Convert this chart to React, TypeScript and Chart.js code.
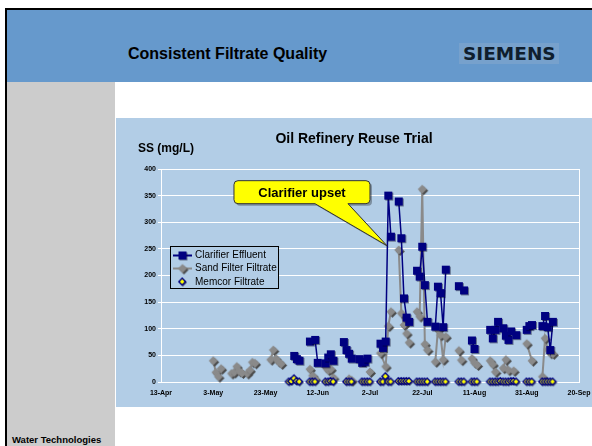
import React, { useEffect, useRef } from "react";
import { Chart, registerables } from "chart.js";

Chart.register(...registerables);

const FONT = "'Liberation Sans', Arial, Helvetica, sans-serif";

// ---- data ----
const xTickLabels = ["13-Apr", "3-May", "23-May", "12-Jun", "2-Jul", "22-Jul", "11-Aug", "31-Aug", "20-Sep"];
const xStepDays = 20;
const yMax = 400;
const yStep = 50;

const chartTitle = "Oil Refinery Reuse Trial";
const yAxisTitle = "SS (mg/L)";
const seriesNames = ["Clarifier Effluent", "Sand Filter Filtrate", "Memcor Filtrate"];

// [days after 13-Apr, SS mg/L]; each inner list is a run of connected samples
const clarifierSegments: number[][][] = [
  [[51, 49], [52, 43], [53, 40]],
  [[57, 76], [59, 79], [60, 36]],
  [[63, 35], [64, 46], [65, 52], [66, 40]],
  [[70, 75], [71, 60], [72, 53], [73, 44]],
  [[76, 43], [77, 36], [78, 38], [79, 44]],
  [[84, 72], [85, 64], [86, 76], [87, 350], [88, 273]],
  [[91, 339], [92, 270], [93, 157], [94, 121], [95, 113]],
  [[98, 209], [99, 198], [100, 254], [101, 182], [102, 113]],
  [[105, 104], [106, 179], [107, 167], [108, 103], [109, 211]],
  [[114, 180], [116, 172]],
  [[119, 78], [120, 62]],
  [[126, 98], [127, 82], [128, 98], [129, 113]],
  [[131, 101], [132, 87], [133, 79], [134, 95], [136, 88]],
  [[140, 98], [141, 105], [142, 107]],
  [[146, 105], [147, 124], [148, 103], [149, 60], [150, 113]],
];

const sandSegments: number[][][] = [
  [[20, 40], [21, 18], [22, 10], [23, 25]],
  [[27, 16], [28, 18], [29, 29], [30, 20], [31, 17]],
  [[33, 16], [34, 22], [35, 37], [36, 35]],
  [[42, 42], [43, 60], [44, 44], [45, 38], [46, 34]],
  [[57, 24], [58, 12], [59, 6]],
  [[63, 28], [64, 22], [65, 24], [66, 8]],
  [[72, 6], [73, 3]],
  [[80, 19]],
  [[84, 54], [86, 29], [87, 105], [88, 132]],
  [[91, 248], [92, 129], [93, 107], [94, 91], [95, 74]],
  [[98, 132], [99, 123], [100, 362], [101, 71], [102, 60]],
  [[105, 38], [106, 98], [107, 88], [108, 42], [109, 85]],
  [[114, 59], [115, 41]],
  [[119, 44], [120, 36], [121, 32]],
  [[126, 40], [127, 33], [128, 19]],
  [[131, 26], [132, 42], [133, 22], [135, 21]],
  [[140, 72], [142, 40]],
  [[146, 10], [147, 82], [148, 61], [149, 54], [150, 53]],
];

const memcorDays = [
  49, 50, 51, 52, 53, 57, 58, 59, 63, 64, 65, 66, 71, 72, 73, 77, 78, 79, 80,
  84, 85, 86, 87, 88, 91, 92, 93, 94, 95, 98, 99, 100, 101, 102, 105, 106, 107, 108, 109,
  114, 115, 116, 119, 120, 121, 126, 127, 128, 129, 130, 131, 132, 133, 134, 135, 136,
  140, 141, 142, 146, 147, 148, 149, 150,
];
const memcorValues = [
  0, 1, 6, 1, 0, 0, 0, 0, 0, 0, 1, 0, 0, 0, 0, 0, 0, 0, 0,
  0, 0, 10, 0, 0, 1, 1, 1, 1, 1, 0, 0, 0, 0, 0, 0, 0, 0, 0, 0,
  0, 0, 0, 0, 0, 0, 0, 0, 0, 0, 1, 0, 0, 0, 1, 1, 0,
  0, 0, 0, 0, 0, 0, 0, 0,
];

const calloutText = "Clarifier upset";
const calloutDay = 86.5;
const calloutValue = 256;

// ---- styles ----
const CHART_BG = "#B2CDE6";
const NAVY = "#000080";
const GRAY = "#8a8a8a";

function segmentsToPoints(segs: number[][][]) {
  const pts: { x: number; y: number | null }[] = [];
  segs.forEach((seg, i) => {
    if (i > 0) pts.push({ x: seg[0][0] - 0.5, y: null });
    seg.forEach(([d, v]) => pts.push({ x: d, y: v }));
  });
  return pts;
}

function makeCanvas(w: number, h: number) {
  const c = document.createElement("canvas");
  c.width = w;
  c.height = h;
  return c;
}

function diamond(ctx: CanvasRenderingContext2D, cx: number, cy: number, r: number) {
  ctx.beginPath();
  ctx.moveTo(cx, cy - r);
  ctx.lineTo(cx + r, cy);
  ctx.lineTo(cx, cy + r);
  ctx.lineTo(cx - r, cy);
  ctx.closePath();
}

function makeSquareMarker() {
  const c = makeCanvas(12, 12);
  const ctx = c.getContext("2d")!;
  ctx.fillStyle = "rgba(0,0,30,0.45)";
  ctx.fillRect(3, 3, 8, 8);
  ctx.fillStyle = NAVY;
  ctx.fillRect(2, 2, 8, 8);
  return c;
}

function makeGrayDiamond() {
  const c = makeCanvas(14, 14);
  const ctx = c.getContext("2d")!;
  ctx.fillStyle = "#4a4a4a";
  diamond(ctx, 8.5, 8.5, 4.5);
  ctx.fill();
  ctx.fillStyle = GRAY;
  diamond(ctx, 7, 7, 4.5);
  ctx.fill();
  return c;
}

function makeMemcorDiamond() {
  const c = makeCanvas(11, 11);
  const ctx = c.getContext("2d")!;
  ctx.fillStyle = "rgba(0,0,40,0.6)";
  diamond(ctx, 6, 6, 4);
  ctx.fill();
  ctx.fillStyle = "#FFFF00";
  ctx.strokeStyle = NAVY;
  ctx.lineWidth = 1.4;
  diamond(ctx, 5.2, 5.2, 3.4);
  ctx.fill();
  ctx.stroke();
  return c;
}

export default function App() {
  const ref = useRef<HTMLCanvasElement>(null);

  useEffect(() => {
    const canvas = ref.current!;
    const sq = makeSquareMarker();
    const dia = makeGrayDiamond();
    const mem = makeMemcorDiamond();

    const decor = {
      id: "decor",
      beforeDraw(chart: any) {
        const ctx = chart.ctx;
        ctx.save();
        ctx.fillStyle = CHART_BG;
        ctx.fillRect(0, 0, chart.width, chart.height);
        ctx.restore();
      },
      beforeDatasetsDraw(chart: any) {
        const { ctx, chartArea: a } = chart;
        ctx.save();
        ctx.strokeStyle = "#ffffff";
        ctx.lineWidth = 1;
        ctx.strokeRect(a.left + 0.5, a.top + 0.5, a.right - a.left, a.bottom - a.top);
        ctx.restore();
      },
      afterDraw(chart: any) {
        const ctx: CanvasRenderingContext2D = chart.ctx;
        ctx.save();
        // titles
        ctx.fillStyle = "#000";
        ctx.textBaseline = "middle";
        ctx.textAlign = "center";
        ctx.font = `bold 14px ${FONT}`;
        ctx.fillText(chartTitle, chart.width / 2, 21);
        ctx.textAlign = "left";
        ctx.font = `bold 12px ${FONT}`;
        ctx.fillText(yAxisTitle, 22, 31);

        // legend
        const lx = 54, ly = 128, lw = 108, lh = 42;
        ctx.fillStyle = CHART_BG;
        ctx.fillRect(lx, ly, lw, lh);
        ctx.strokeStyle = "#000";
        ctx.lineWidth = 1;
        ctx.strokeRect(lx + 0.5, ly + 0.5, lw, lh);
        const rows = [
          { y: 137.5, color: NAVY, lw: 2, img: sq, line: true },
          { y: 150.5, color: GRAY, lw: 2, img: dia, line: true },
          { y: 164, color: NAVY, lw: 0, img: mem, line: false },
        ];
        ctx.font = `10px ${FONT}`;
        rows.forEach((r, i) => {
          if (r.line) {
            ctx.strokeStyle = r.color;
            ctx.lineWidth = r.lw;
            ctx.beginPath();
            ctx.moveTo(57, r.y);
            ctx.lineTo(76, r.y);
            ctx.stroke();
          }
          ctx.drawImage(r.img, 66.5 - r.img.width / 2, r.y - r.img.height / 2);
          ctx.fillStyle = "#000";
          ctx.fillText(seriesNames[i], 79, r.y);
        });

        // callout
        const tx = chart.scales.x.getPixelForValue(calloutDay);
        const ty = chart.scales.y.getPixelForValue(calloutValue);
        const L = tx - 153, R = tx - 17, T = ty - 65, B = ty - 42, rr = 4;
        ctx.beginPath();
        ctx.moveTo(L + rr, T);
        ctx.lineTo(R - rr, T);
        ctx.quadraticCurveTo(R, T, R, T + rr);
        ctx.lineTo(R, B - rr);
        ctx.quadraticCurveTo(R, B, R - rr, B);
        ctx.lineTo(tx - 39, B);
        ctx.lineTo(tx, ty);
        ctx.lineTo(tx - 72, B);
        ctx.lineTo(L + rr, B);
        ctx.quadraticCurveTo(L, B, L, B - rr);
        ctx.lineTo(L, T + rr);
        ctx.quadraticCurveTo(L, T, L + rr, T);
        ctx.closePath();
        ctx.save();
        ctx.shadowColor = "rgba(0,0,0,0.3)";
        ctx.shadowOffsetX = 2;
        ctx.shadowOffsetY = 2;
        ctx.fillStyle = "#FFFF00";
        ctx.fill();
        ctx.restore();
        ctx.strokeStyle = "#333";
        ctx.lineWidth = 1;
        ctx.stroke();
        ctx.fillStyle = "#000";
        ctx.textAlign = "center";
        ctx.font = `bold 13px ${FONT}`;
        ctx.fillText(calloutText, (L + R) / 2, (T + B) / 2 + 1);
        ctx.restore();
      },
    };

    const chart = new Chart(canvas, {
      type: "line",
      data: {
        datasets: [
          {
            label: seriesNames[0],
            data: segmentsToPoints(clarifierSegments),
            borderColor: NAVY,
            backgroundColor: NAVY,
            borderWidth: 1.5,
            pointStyle: sq as any,
            pointRadius: 5,
            spanGaps: false,
            clip: false as any,
            order: 1,
          },
          {
            label: seriesNames[1],
            data: segmentsToPoints(sandSegments),
            borderColor: GRAY,
            backgroundColor: GRAY,
            borderWidth: 2,
            pointStyle: dia as any,
            pointRadius: 5,
            spanGaps: false,
            clip: false as any,
            order: 2,
          },
          {
            label: seriesNames[2],
            data: memcorDays.map((d, i) => ({ x: d, y: memcorValues[i] })),
            showLine: false,
            borderColor: NAVY,
            backgroundColor: "#FFFF00",
            pointStyle: mem as any,
            pointRadius: 4,
            clip: false as any,
            order: 0,
          },
        ] as any,
      },
      options: {
        responsive: false,
        animation: false,
        devicePixelRatio: 1,
        layout: { padding: { top: 51, right: 13, left: 0, bottom: 0 } },
        plugins: { legend: { display: false }, tooltip: { enabled: false }, title: { display: false } },
        scales: {
          x: {
            type: "linear",
            min: 0,
            max: (xTickLabels.length - 1) * xStepDays,
            grid: { display: false, drawTicks: false },
            border: { display: true, color: "#ffffff", width: 1 },
            ticks: {
              stepSize: xStepDays,
              autoSkip: false,
              maxRotation: 0,
              padding: 7,
              color: "#000",
              font: { family: FONT, size: 7, weight: "bold" },
              callback: (v: any) => xTickLabels[Math.round(Number(v) / xStepDays)],
            },
            afterFit: (s: any) => {
              s.height = 25;
              s.paddingLeft = 0;
              s.paddingRight = 0;
            },
          },
          y: {
            min: 0,
            max: yMax,
            grid: { color: "#ffffff", lineWidth: 1, tickLength: 3 },
            border: { color: "#ffffff", width: 1 },
            ticks: {
              stepSize: yStep,
              padding: 2,
              color: "#000",
              font: { family: FONT, size: 7, weight: "bold" },
            },
            afterFit: (s: any) => {
              s.width = 45;
              s.paddingTop = 0;
              s.paddingBottom = 0;
            },
          },
        },
      } as any,
      plugins: [decor],
    });
    return () => chart.destroy();
  }, []);

  const abs = (s: React.CSSProperties): React.CSSProperties => ({ position: "absolute", ...s });

  return (
    <div style={abs({ left: 0, top: 0, width: 592, height: 446, background: "#fff", overflow: "hidden", fontFamily: FONT })}>
      <div style={abs({ left: 5, top: 8, width: 587, height: 2, background: "#000" })} />
      <div style={abs({ left: 5, top: 8, width: 2, height: 438, background: "#000" })} />
      <div style={abs({ left: 7, top: 10, width: 585, height: 72, background: "#6699CC" })} />
      <div style={abs({ left: 7, top: 82, width: 108, height: 364, background: "#CCCCCC" })} />
      <div style={abs({ left: 128, top: 45, fontSize: 16, lineHeight: "18px", fontWeight: "bold", color: "#000", whiteSpace: "nowrap" })}>
        Consistent Filtrate Quality
      </div>
      <div style={abs({ left: 459, top: 43, width: 100, height: 21, background: "#77a1cc" })} />
      <div style={abs({ left: 463, top: 43, fontSize: 18.5, lineHeight: "21px", fontWeight: "bold", fontFamily: "'DejaVu Sans', sans-serif", color: "#0f1e2e", whiteSpace: "nowrap" })}>
        SIEMENS
      </div>
      <div style={abs({ left: 12, top: 434, fontSize: 9.5, lineHeight: "12px", fontWeight: "bold", color: "#000", whiteSpace: "nowrap" })}>
        Water Technologies
      </div>
      <canvas ref={ref} width={476} height={289} style={abs({ left: 116, top: 118, width: 476, height: 289 })} />
    </div>
  );
}
